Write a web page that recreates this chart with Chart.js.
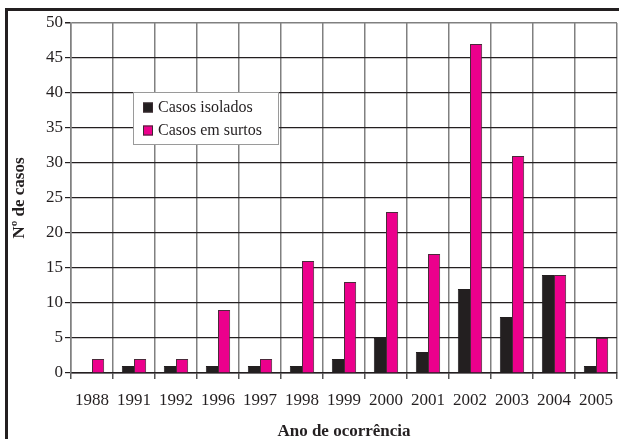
<!DOCTYPE html>
<html>
<head>
<meta charset="utf-8">
<script src="https://cdn.jsdelivr.net/npm/chart.js@4/dist/chart.umd.min.js"></script>
<style>
  html, body { margin: 0; padding: 0; background: #fff; }
  canvas { display: block; }
</style>
</head>
<body>
<canvas id="grafico" width="619" height="439"></canvas>
<script>
// Anos de ocorrência e número de casos por tipo
const anos = ['1988', '1991', '1992', '1996', '1997', '1998', '1999', '2000', '2001', '2002', '2003', '2004', '2005'];
const casosIsolados = [0, 1, 1, 1, 1, 1, 2, 5, 3, 12, 8, 14, 1];
const casosEmSurtos = [2, 2, 2, 9, 2, 16, 13, 23, 17, 47, 31, 14, 5];
const rotulosSeries = ['Casos isolados', 'Casos em surtos'];
const coresSeries = ['#231f20', '#ec008c'];

const fonteSerif = '"Liberation Serif", "Times New Roman", serif';

// Moldura superior e esquerda
const moldura = {
  id: 'moldura',
  afterDraw(chart) {
    const ctx = chart.ctx;
    ctx.save();
    ctx.strokeStyle = '#231f20';
    ctx.lineWidth = 3;
    ctx.beginPath();
    ctx.moveTo(5, 9.5);
    ctx.lineTo(619, 9.5);
    ctx.moveTo(6.5, 8);
    ctx.lineTo(6.5, 439);
    ctx.stroke();
    ctx.restore();
  }
};

// Legenda em caixa dentro da área do gráfico
const legendaCaixa = {
  id: 'legendaCaixa',
  afterDraw(chart) {
    const ctx = chart.ctx;
    const x = 133.5, y = 92.5, w = 145, h = 52;
    ctx.save();
    ctx.fillStyle = '#ffffff';
    ctx.fillRect(x, y, w, h);
    ctx.strokeStyle = '#9a9a9a';
    ctx.lineWidth = 1;
    ctx.strokeRect(x, y, w, h);
    ctx.font = '16px ' + fonteSerif;
    ctx.textBaseline = 'middle';
    ctx.textAlign = 'left';
    chart.data.datasets.forEach((ds, i) => {
      const cy = 107.5 + i * 23;
      ctx.fillStyle = ds.backgroundColor;
      ctx.fillRect(143, cy - 5, 10, 10);
      ctx.strokeStyle = '#3a2a30';
      ctx.strokeRect(143.5, cy - 4.5, 9, 9);
      ctx.fillStyle = '#231f20';
      ctx.fillText(ds.label, 158, cy);
    });
    ctx.restore();
  }
};

new Chart(document.getElementById('grafico'), {
  type: 'bar',
  data: {
    labels: anos,
    datasets: [
      {
        label: rotulosSeries[0],
        data: casosIsolados,
        backgroundColor: coresSeries[0],
        borderColor: '#231f20',
        borderWidth: 1
      },
      {
        label: rotulosSeries[1],
        data: casosEmSurtos,
        backgroundColor: coresSeries[1],
        borderColor: '#4a2a3a',
        borderWidth: 1
      }
    ]
  },
  options: {
    responsive: false,
    devicePixelRatio: 1,
    animation: false,
    layout: { padding: { left: 0, top: 23, right: 2, bottom: 0 } },
    plugins: {
      legend: { display: false },
      tooltip: { enabled: false }
    },
    datasets: {
      bar: { categoryPercentage: 0.58, barPercentage: 1.0 }
    },
    scales: {
      x: {
        offset: true,
        grid: {
          offset: true,
          color: '#808080',
          lineWidth: 1.5,
          drawTicks: true,
          tickLength: 6,
          tickColor: '#555'
        },
        border: { color: '#231f20', width: 1.5 },
        ticks: {
          color: '#231f20',
          font: { family: fonteSerif, size: 17 },
          padding: 11,
          maxRotation: 0,
          autoSkip: false
        },
        title: {
          display: true,
          text: 'Ano de ocorrência',
          color: '#231f20',
          font: { family: fonteSerif, size: 17, weight: 'bold', lineHeight: 1 },
          padding: { top: 0, bottom: -1 }
        },
        afterFit(axis) {
          axis.height = 66;
          axis.paddingLeft = 0;
          axis.paddingRight = 0;
        }
      },
      y: {
        min: 0,
        max: 50,
        grid: {
          color: ctx => (ctx.tick && ctx.tick.value === 50) ? '#808080' : '#231f20',
          lineWidth: ctx => (ctx.tick && ctx.tick.value === 50) ? 1.5 : 1.2,
          drawTicks: true,
          tickLength: 6,
          tickColor: '#231f20'
        },
        border: { color: '#808080', width: 1.5 },
        ticks: {
          stepSize: 5,
          color: '#231f20',
          font: { family: fonteSerif, size: 17 },
          padding: 2
        },
        title: {
          display: true,
          text: 'Nº de casos',
          color: '#231f20',
          font: { family: fonteSerif, size: 17, weight: 'bold', lineHeight: 1 },
          padding: { top: 11, bottom: 0 }
        },
        afterFit(axis) { axis.width = 71; }
      }
    }
  },
  plugins: [moldura, legendaCaixa]
});
</script>
</body>
</html>
